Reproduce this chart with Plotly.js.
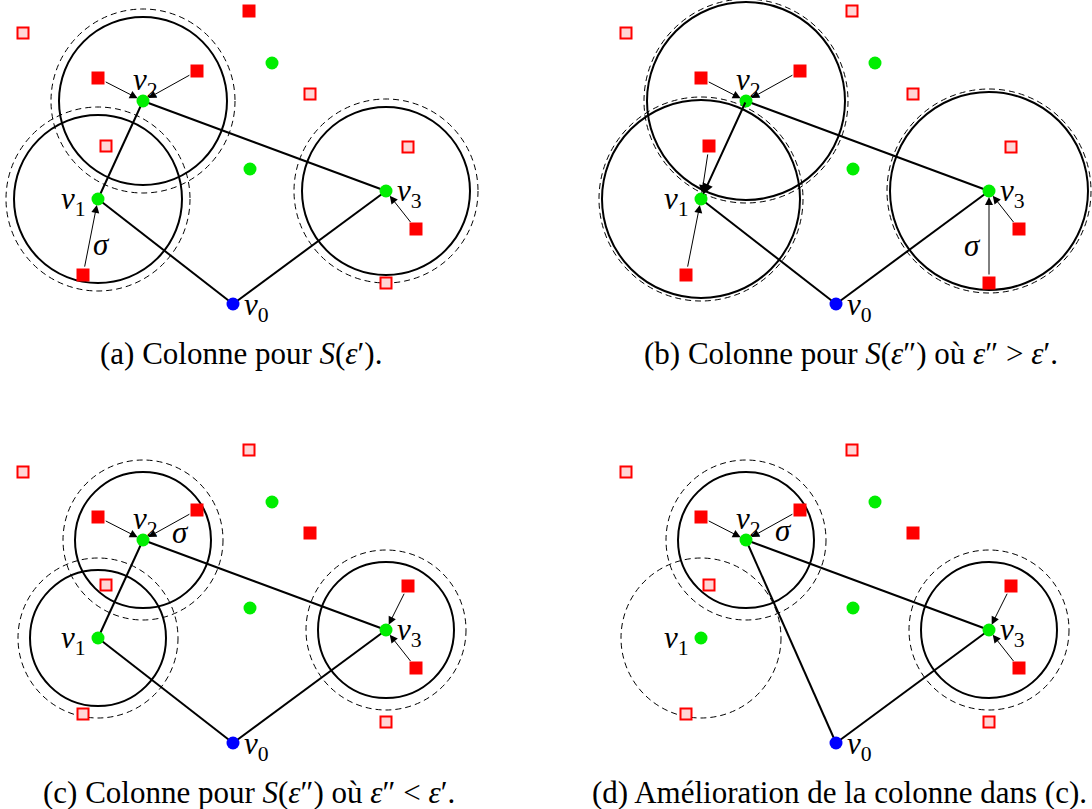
<!DOCTYPE html>
<html><head><meta charset="utf-8">
<script src="https://cdn.plot.ly/plotly-3.0.1.min.js"></script>
<style>html,body{margin:0;padding:0;background:#fff;}#chart{width:1092px;height:809px;}</style>
</head><body><div id="chart"></div>
<script>
// ---- base geometry (panel-local coordinates, panel (a) frame) ----
const vertexLabels = ['0', '1', '2', '3'];
const vertexX = [233, 98, 143, 386];
const vertexY = [304, 199, 101, 191];
const squareX = [23, 98, 197, 249, 310, 106, 408, 416, 386, 83];
const squareY = [33, 78, 71, 11, 94, 146, 147, 229, 283, 275];
const greenX = [272, 250];
const greenY = [63, 169];

// ---- panels ----
const panelNames = ['a', 'b', 'c', 'd'];
const panelDX = [0, 603, 0, 603];
const panelDY = [0, 0, 439, 439];
const filledSquares = [[1, 2, 3, 7, 9], [1, 2, 5, 7, 8, 9], [1, 2, 4, 6, 7], [1, 2, 4, 6, 7]];
const assignArrows = [
  [[1, 2], [2, 2], [9, 1], [7, 3]],
  [[1, 2], [2, 2], [5, 1], [9, 1], [7, 3], [8, 3]],
  [[1, 2], [2, 2], [6, 3], [7, 3]],
  [[1, 2], [2, 2], [6, 3], [7, 3]]
];
const edges = [
  [[0, 1], [1, 2], [2, 3], [3, 0]],
  [[0, 1], [2, 3], [3, 0]],
  [[0, 1], [1, 2], [2, 3], [3, 0]],
  [[0, 2], [2, 3], [3, 0]]
];
const arrowEdges = [[], [[2, 1]], [], []];
const solidCircleVerts = [[1, 2, 3], [1, 2, 3], [1, 2, 3], [2, 3]];
const dashedCircleVerts = [[1, 2, 3], [1, 2, 3], [1, 2, 3], [1, 2, 3]];
const solidRadius = [84, 99, 68, 68];
const dashedRadius = [92, 102, 80, 80];
const sigmaX = [101, 369, 180, 180];
const sigmaY = [244, 245, 93, 91];
const NB = '\u00a0';
const captions = [
  '(a) Colonne pour <i>S</i>(<i>ε</i>′).',
  '(b) Colonne pour <i>S</i>(<i>ε</i>″)' + NB + 'où' + NB + '<i>ε</i>″' + NB + '&gt;' + NB + '<i>ε</i>′.',
  '(c) Colonne pour <i>S</i>(<i>ε</i>″)' + NB + 'où' + NB + '<i>ε</i>″' + NB + '&lt;' + NB + '<i>ε</i>′.',
  '(d) Amélioration de la colonne dans (c).'
];
const captionX = [241, 851, 249, 1089];
const captionAnchor = ['center', 'center', 'center', 'right'];
const captionY = [353, 353, 792, 792];

const FONT = 'Liberation Serif, Times New Roman, serif';
const traces = [], shapes = [], annotations = [];

for (let p = 0; p < 4; p++) {
  const dx = panelDX[p], dy = panelDY[p];
  const X = i => vertexX[i] + dx, Y = i => vertexY[i] + dy;
  // circles
  dashedCircleVerts[p].forEach(v => {
    const r = dashedRadius[p];
    shapes.push({type: 'circle', xref: 'x', yref: 'y', layer: 'below',
      x0: X(v) - r, x1: X(v) + r, y0: Y(v) - r, y1: Y(v) + r,
      line: {color: '#000', width: 1, dash: '6px,4px'}});
  });
  solidCircleVerts[p].forEach(v => {
    const r = solidRadius[p];
    shapes.push({type: 'circle', xref: 'x', yref: 'y', layer: 'below',
      x0: X(v) - r, x1: X(v) + r, y0: Y(v) - r, y1: Y(v) + r,
      line: {color: '#000', width: 2}});
  });
  // edges
  const ex = [], ey = [];
  edges[p].forEach(([a, b]) => { ex.push(X(a), X(b), null); ey.push(Y(a), Y(b), null); });
  traces.push({x: ex, y: ey, mode: 'lines', line: {color: '#000', width: 2}, hoverinfo: 'skip'});
  arrowEdges[p].forEach(([a, b]) => {
    annotations.push({x: X(b), y: Y(b), ax: X(a), ay: Y(a), xref: 'x', yref: 'y', axref: 'x', ayref: 'y',
      text: '', showarrow: true, arrowhead: 2, arrowsize: 1.1, arrowwidth: 2, arrowcolor: '#000', standoff: 5});
  });
  // squares
  const fx = [], fy = [], ox = [], oy = [];
  squareX.forEach((sx, i) => {
    if (filledSquares[p].includes(i)) { fx.push(sx + dx); fy.push(squareY[i] + dy); }
    else { ox.push(sx + dx); oy.push(squareY[i] + dy); }
  });
  traces.push({x: ox, y: oy, mode: 'markers', hoverinfo: 'skip',
    marker: {symbol: 'square', size: 11, color: '#ffd6d6', line: {color: '#ff0000', width: 2}}});
  traces.push({x: fx, y: fy, mode: 'markers', hoverinfo: 'skip',
    marker: {symbol: 'square', size: 13, color: '#ff0000', line: {width: 0}}});
  // green points
  traces.push({x: greenX.map(v => v + dx), y: greenY.map(v => v + dy), mode: 'markers', hoverinfo: 'skip',
    marker: {size: 13, color: '#00ee00', line: {width: 0}}});
  // vertices
  traces.push({x: [1, 2, 3].map(X), y: [1, 2, 3].map(Y), mode: 'markers', hoverinfo: 'skip',
    marker: {size: 13, color: '#00ee00', line: {width: 0}}});
  traces.push({x: [X(0)], y: [Y(0)], mode: 'markers', hoverinfo: 'skip',
    marker: {size: 13, color: '#0000ff', line: {width: 0}}});
  // assignment arrows
  assignArrows[p].forEach(([s, v]) => {
    annotations.push({x: X(v), y: Y(v), ax: squareX[s] + dx, ay: squareY[s] + dy,
      xref: 'x', yref: 'y', axref: 'x', ayref: 'y', text: '', showarrow: true,
      arrowhead: 2, arrowsize: 1.6, arrowwidth: 1, arrowcolor: '#000', standoff: 6, startstandoff: 7});
  });
  // vertex labels
  const lbl = i => '<i>v</i><sub>' + vertexLabels[i] + '</sub>';
  const lf = {family: FONT, size: 31, color: '#000'};
  annotations.push({x: X(0) + 9, y: Y(0) + 3, text: lbl(0), xanchor: 'left', yanchor: 'middle', showarrow: false, font: lf});
  annotations.push({x: X(1) - 10, y: Y(1) + 2, text: lbl(1), xanchor: 'right', yanchor: 'middle', showarrow: false, font: lf});
  annotations.push({x: X(2) + 2, y: Y(2) - 19, text: lbl(2), xanchor: 'center', yanchor: 'middle', showarrow: false, font: lf});
  annotations.push({x: X(3) + 9, y: Y(3) + 2, text: lbl(3), xanchor: 'left', yanchor: 'middle', showarrow: false, font: lf});
  annotations.push({x: sigmaX[p] + dx, y: sigmaY[p] + dy, text: '<i>σ</i>', xanchor: 'center', yanchor: 'middle', showarrow: false, font: lf});
  // caption
  annotations.push({x: captionX[p], y: captionY[p], text: captions[p], xanchor: captionAnchor[p], yanchor: 'middle',
    showarrow: false, font: {family: FONT, size: 31, color: '#000'}});
}

const layout = {
  width: 1092, height: 809, margin: {l: 0, r: 0, t: 0, b: 0},
  paper_bgcolor: '#fff', plot_bgcolor: '#fff', showlegend: false,
  xaxis: {range: [0, 1092], visible: false, fixedrange: true},
  yaxis: {range: [809, 0], visible: false, fixedrange: true},
  shapes: shapes, annotations: annotations
};
Plotly.newPlot('chart', traces, layout, {staticPlot: true, displayModeBar: false});
</script></body></html>
